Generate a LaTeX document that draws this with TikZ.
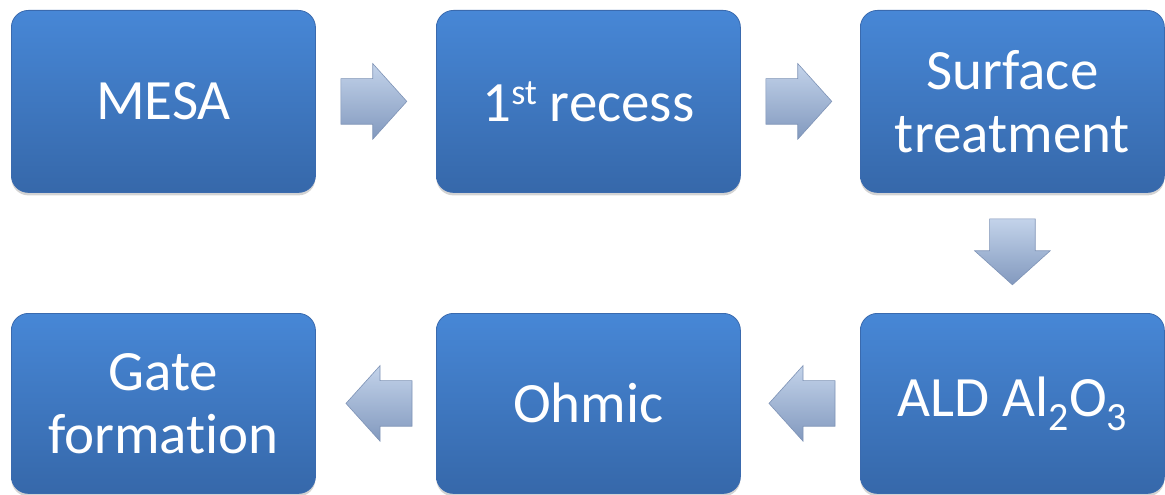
\documentclass[tikz,border=0pt]{standalone}
\usepackage{fontspec}
\setmainfont{Carlito}[Ligatures=NoCommon]
\usetikzlibrary{shapes.arrows,shadows,calc}
\definecolor{boxtop}{HTML}{4787D6}
\definecolor{boxbot}{HTML}{3668AA}
\definecolor{boxedge}{HTML}{3A6AAE}
\definecolor{arrtop}{HTML}{C3D3EA}
\definecolor{arrbot}{HTML}{8299BE}
\definecolor{arredge}{HTML}{7E93B6}
\newcommand{\mysup}[1]{\raisebox{17pt}{\fontsize{36pt}{36pt}\selectfont #1}}
\newcommand{\mysub}[1]{\raisebox{-14pt}{\fontsize{40pt}{40pt}\selectfont #1}}
\tikzset{
  stepbox/.style={draw=boxedge, line width=0.8pt, rounded corners=17pt,
    top color=boxtop, bottom color=boxbot,
    drop shadow={opacity=0.35, shadow xshift=0pt, shadow yshift=-3pt},
    minimum width=304pt, inner sep=0pt, anchor=north west,
    text=white, align=center,
    font=\fontsize{57pt}{63pt}\selectfont},
  toprow/.style={minimum height=182pt},
  botrow/.style={minimum height=180pt},
  blockarrow/.style={single arrow, draw=arredge, line width=0.6pt,
    top color=arrtop, bottom color=arrbot,
    minimum height=66pt, inner xsep=0pt, inner ysep=22.5pt,
    single arrow head extend=15pt, single arrow tip angle=96,
    outer sep=0pt, anchor=tail},
  vblockarrow/.style={blockarrow, inner xsep=22.5pt, inner ysep=0pt}
}
\begin{document}
\begin{tikzpicture}
\useasboundingbox (0pt,0pt) rectangle (1165pt,-495pt);
\node[stepbox,toprow] (mesa) at (11pt,-10pt) {MESA};
\node[stepbox,toprow] (recess) at (436pt,-10pt) {1\mysup{st} recess};
\node[stepbox,toprow] (surf) at (860pt,-10pt) {Surface\\treatment};
\node[stepbox,botrow] (gate) at (11pt,-313pt) {Gate\\formation};
\node[stepbox,botrow] (ohmic) at (436pt,-313pt) {Ohmic};
\node[stepbox,botrow] (ald) at (860pt,-313pt) {ALD Al\mysub{2}O\mysub{3}};
\node[blockarrow] (a1) at ($(mesa.east)+(25pt,0)$) {};
\node[blockarrow] (a2) at ($(recess.east)+(25pt,0)$) {};
\node[vblockarrow, shape border rotate=270] (a3) at ($(surf.south)+(0,-26pt)$) {};
\node[blockarrow, shape border rotate=180] (a4) at ($(ald.west)+(-25pt,0)$) {};
\node[blockarrow, shape border rotate=180] (a5) at ($(ohmic.west)+(-24pt,0)$) {};
\end{tikzpicture}
\end{document}
